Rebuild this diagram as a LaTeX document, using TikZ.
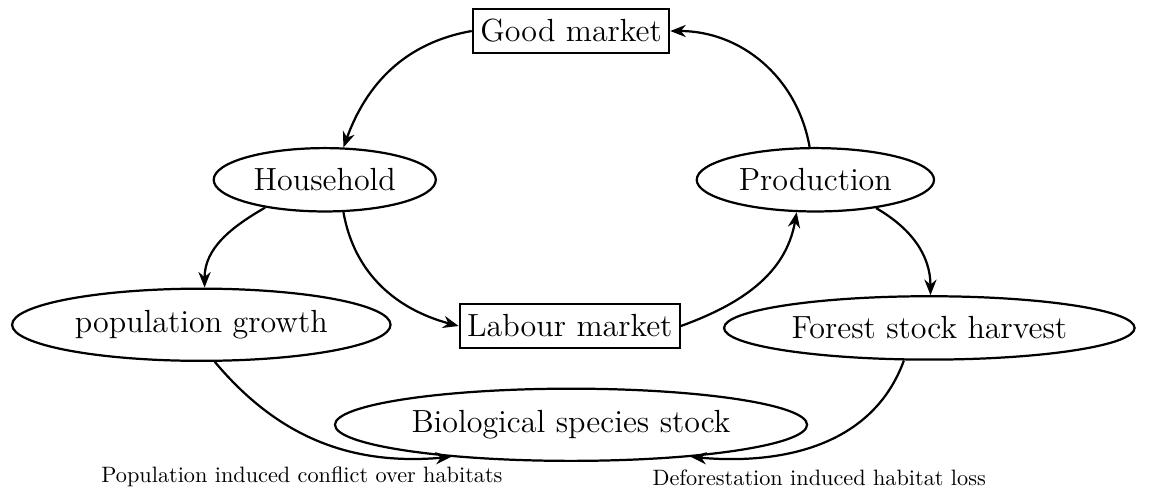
\documentclass[tikz,border=0pt]{standalone}
\usetikzlibrary{shapes.geometric,arrows.meta}
\begin{document}
\begin{tikzpicture}[
  oval/.style={ellipse,draw,line width=1pt,font=\Large,inner ysep=5pt},
  market/.style={rectangle,draw,line width=1pt,font=\Large,minimum height=0.7cm},
  flow/.style={line width=1pt,-{Stealth[length=7pt,width=5.5pt]}}]
\useasboundingbox (0,0) rectangle (18.15,7.74);

%markets and agents
\node[market] (good) at (9.02,7.25) {Good market};
\node[oval] (house) at (5.13,4.90) {Household};
\node[oval] (prod) at (12.88,4.90) {Production};
\node[market] (labour) at (9.00,2.59) {Labour market};

%environment
\node[oval] (pop) at (3.18,2.61) {population growth};
\node[oval] (forest) at (14.68,2.56) {Forest stock harvest};
\node[oval] (bio) at (9.02,1.03) {Biological species stock};

\node[] (conflict) at (4.77,0.21) {Population induced conflict over habitats};
\node[] (defor) at (12.94,0.19) {Deforestation induced habitat loss};

\draw[flow] (good.west) to[out=190,in=70] (house.60);
\draw[flow] (prod.100) to[out=100,in=0] (good.east);

\draw[flow] (house.205) to[out=210,in=90] (pop.85);
\draw[flow] (house.300) to[out=280,in=165] (labour.west);
\draw[flow] (labour.east) to[out=20,in=260] (prod.240);
\draw[flow] (prod.335) to[out=-30,in=90] (forest.88);

\draw[flow] (pop.290) to[out=-50,in=185] (bio.195);
\draw[flow] (forest.232) to[out=250,in=-5] (bio.345);

\end{tikzpicture}
\end{document}
